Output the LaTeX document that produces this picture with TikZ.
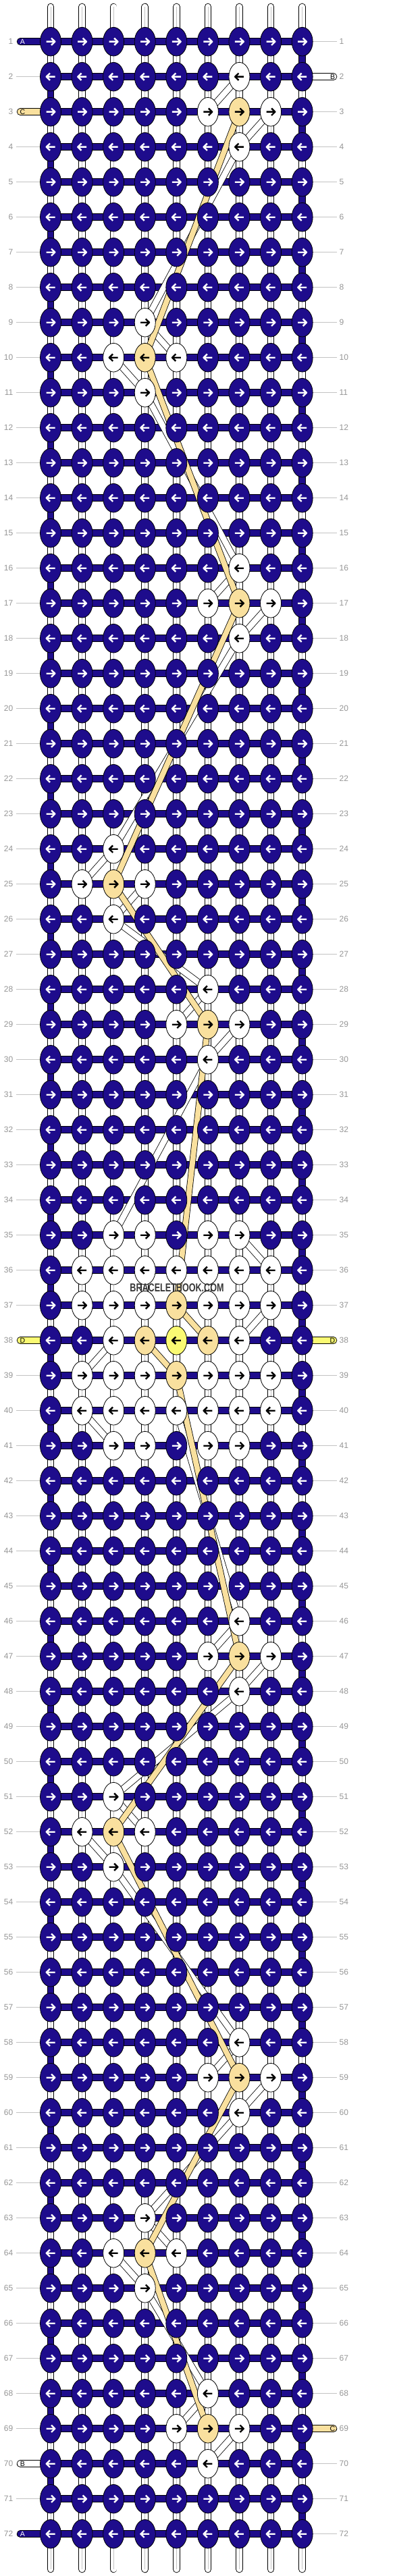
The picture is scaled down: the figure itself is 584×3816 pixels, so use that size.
\documentclass[tikz,border=0pt]{standalone}
\usepackage{fontspec}
\setmainfont{Liberation Sans}
\usetikzlibrary{shapes.geometric}
\definecolor{nv}{RGB}{30,12,140}
\definecolor{tn}{RGB}{249,224,158}
\definecolor{yl}{RGB}{250,250,115}
\definecolor{gline}{RGB}{195,195,195}
\definecolor{gtxt}{RGB}{150,150,150}
\definecolor{wmark}{RGB}{55,55,55}
\pgfdeclarelayer{bars}
\pgfdeclarelayer{bands}
\pgfsetlayers{bars,bands,main}
\tikzset{
  knot/.style={ellipse, draw=black, line width=0.8pt, minimum width=31pt, minimum height=42.6pt, inner sep=0pt},
  knot-n/.style={fill=nv}, knot-w/.style={fill=white}, knot-t/.style={fill=tn}, knot-y/.style={fill=yl},
  arr/.style={line width=2.4pt, line cap=butt, line join=round},
  arr-n/.style={draw=white}, arr-w/.style={draw=black}, arr-t/.style={draw=black}, arr-y/.style={draw=black},
  barout/.style={line width=10.5pt, draw=black},
  barnv/.style={line width=8.7pt, draw=nv},
  barwh/.style={line width=8.7pt, draw=white},
  barmid/.style={line width=0.6pt, draw=gline},
  guide/.style={line width=0.9pt, draw=gline},
  rowlab/.style={text=gtxt, font=\fontsize{12}{12}\selectfont, inner sep=0pt},
  stublab/.style={font=\fontsize{10.5}{10.5}\selectfont, inner sep=0pt},
  wbo/.style={line width=10pt, draw=black},
  wbi/.style={line width=8.4pt, draw=white},
  tbo/.style={line width=9.5pt, draw=black},
  tbi/.style={line width=7.9pt, draw=tn},
}
\begin{document}
\begin{tikzpicture}[x=1pt,y=-1pt]
\useasboundingbox (0,0) rectangle (584,3816);
\begin{pgfonlayer}{bars}\fill[white] (0,0) rectangle (584,3816);\end{pgfonlayer}
% special knot colours
\foreach \r/\c/\t in {2/7/w,3/6/w,3/7/t,3/8/w,4/7/w,
  9/4/w,10/3/w,10/4/t,10/5/w,11/4/w,
  16/7/w,17/6/w,17/7/t,17/8/w,18/7/w,
  24/3/w,25/2/w,25/3/t,25/4/w,26/3/w,
  28/6/w,29/5/w,29/6/t,29/7/w,30/6/w,
  35/3/w,35/4/w,35/6/w,35/7/w,
  36/2/w,36/3/w,36/4/w,36/5/w,36/6/w,36/7/w,36/8/w,
  37/2/w,37/3/w,37/4/w,37/5/t,37/6/w,37/7/w,37/8/w,
  38/3/w,38/4/t,38/5/y,38/6/t,38/7/w,
  39/2/w,39/3/w,39/4/w,39/5/t,39/6/w,39/7/w,39/8/w,
  40/2/w,40/3/w,40/4/w,40/5/w,40/6/w,40/7/w,40/8/w,
  41/3/w,41/4/w,41/6/w,41/7/w,
  46/7/w,47/6/w,47/7/t,47/8/w,48/7/w,
  51/3/w,52/2/w,52/3/t,52/4/w,53/3/w,
  58/7/w,59/6/w,59/7/t,59/8/w,60/7/w,
  63/4/w,64/3/w,64/4/t,64/5/w,65/4/w,
  68/6/w,69/5/w,69/6/t,69/7/w,70/6/w}{\expandafter\xdef\csname kc-\r-\c\endcsname{\t}}
% stubs
\foreach \r/\f/\l/\tc in {1/nv/A/white,3/tn/C/black,38/yl/D/black,70/white/B/black,72/nv/A/white}{\expandafter\xdef\csname sl-\r\endcsname{\f/\l/\tc}}
\foreach \r/\f/\l/\tc in {2/white/B/black,38/yl/D/black,69/tn/C/black}{\expandafter\xdef\csname sr-\r\endcsname{\f/\l/\tc}}
% knots
\foreach \r in {1,...,72}{
  \pgfmathsetmacro\Y{61.7+52*(\r-1)}
  \pgfmathtruncatemacro\odd{mod(\r,2)}
  \foreach \c in {1,...,9}{
    \pgfmathsetmacro\X{75+46.58*(\c-1)}
    \ifcsname kc-\r-\c\endcsname\edef\kt{\csname kc-\r-\c\endcsname}\else\def\kt{n}\fi
    \node[knot, knot-\kt] (k\r-\c) at (\X,\Y) {};
    \ifnum\odd=1
      \draw[arr, arr-\kt] (\X-6.5,\Y) -- (\X+6,\Y) (\X+1,\Y-5.2) -- (\X+6.3,\Y) -- (\X+1,\Y+5.2);
    \else
      \draw[arr, arr-\kt] (\X+6.5,\Y) -- (\X-6,\Y) (\X-1,\Y-5.2) -- (\X-6.3,\Y) -- (\X-1,\Y+5.2);
    \fi
  }
  \node[rowlab, anchor=east] (ll\r) at (19.5,\Y) {\r};
  \node[rowlab, anchor=west] (lr\r) at (502.5,\Y) {\r};
  \coordinate (gl\r) at (23.5,\Y);
  \coordinate (gr\r) at (499,\Y);
  \coordinate (sl\r) at (30,\Y);
  \coordinate (sr\r) at (494,\Y);
}
\begin{pgfonlayer}{bars}
% top and bottom strand ends
\foreach \c in {1,...,9}{
  \pgfmathsetmacro\X{75+46.58*(\c-1)}
  \coordinate (top\c) at (\X,10);
  \coordinate (bot\c) at (\X,3806);
  \draw[barout, line cap=round] (top\c) -- (k1-\c.center);
  \draw[barwh, line cap=round] (top\c) -- (k1-\c.center);
  \draw[barmid] (top\c) -- (k1-\c.center);
  \draw[barout, line cap=round] (bot\c) -- (k72-\c.center);
  \draw[barwh, line cap=round] (bot\c) -- (k72-\c.center);
  \draw[barmid] (bot\c) -- (k72-\c.center);
}
% vertical connectors
\foreach \r in {1,...,71}{
  \pgfmathtruncatemacro\rn{\r+1}
  \pgfmathtruncatemacro\od{mod(\r,2)}
  \foreach \c in {1,...,9}{
    \pgfmathtruncatemacro\isb{or(and(\c==9,\od==1),and(\c==1,\od==0))}
    \draw[barout] (k\r-\c.center) -- (k\rn-\c.center);
    \ifnum\isb=1
      \draw[barnv] (k\r-\c.center) -- (k\rn-\c.center);
    \else
      \draw[barwh] (k\r-\c.center) -- (k\rn-\c.center);
      \draw[barmid] (k\r-\c.center) -- (k\rn-\c.center);
    \fi
  }
}
% horizontal bars, guides, stubs
\foreach \r in {1,...,72}{
  \foreach \c in {1,...,8}{
    \pgfmathtruncatemacro\cn{\c+1}
    \draw[barout] (k\r-\c.center) -- (k\r-\cn.center);
    \draw[barnv] (k\r-\c.center) -- (k\r-\cn.center);
  }
  \ifcsname sl-\r\endcsname
    \edef\sp{\csname sl-\r\endcsname}
    \foreach \f/\l/\tc in \sp {
      \draw[barout, line cap=round] (sl\r) -- (k\r-1.center);
      \draw[line width=8.7pt, draw=\f, line cap=round] (sl\r) -- (k\r-1.center);
      \node[stublab, text=\tc] (sa\r) at ([xshift=3.5pt]sl\r) {\l};
    }
  \else
    \draw[guide] (gl\r) -- (k\r-1.center);
  \fi
  \ifcsname sr-\r\endcsname
    \edef\sp{\csname sr-\r\endcsname}
    \foreach \f/\l/\tc in \sp {
      \draw[barout, line cap=round] (sr\r) -- (k\r-9.center);
      \draw[line width=8.7pt, draw=\f, line cap=round] (sr\r) -- (k\r-9.center);
      \node[stublab, text=\tc] (sb\r) at ([xshift=-1.5pt]sr\r) {\l};
    }
  \else
    \draw[guide] (gr\r) -- (k\r-9.center);
  \fi
}
\end{pgfonlayer}
% diagonal floats
\begin{pgfonlayer}{bands}
\foreach \a/\b in {2-7/3-6,3-8/4-7,4-7/9-4,9-4/10-5,10-3/11-4,11-4/16-7,16-7/17-6,17-8/18-7,
  18-7/24-3,24-3/25-2,25-4/26-3,26-3/28-6,28-6/29-5,29-7/30-6,30-6/35-3,35-7/36-8,37-8/38-7,
  38-3/39-2,40-2/41-3,40-5/46-7,46-7/47-6,47-8/48-7,48-7/51-3,51-3/52-4,52-2/53-3,53-3/58-7,
  58-7/59-6,59-8/60-7,60-7/63-4,63-4/64-5,64-3/65-4,65-4/68-6,68-6/69-5,69-7/70-6}{
  \draw[wbo] (k\a.center) -- (k\b.center);
  \draw[wbi] (k\a.center) -- (k\b.center);
}
\foreach \a/\b in {3-7/10-4,10-4/17-7,17-7/25-3,25-3/29-6,29-6/37-5,37-5/38-6,38-4/39-5,
  39-5/47-7,47-7/52-3,52-3/59-7,59-7/64-4,64-4/69-6}{
  \draw[tbo] (k\a.center) -- (k\b.center);
  \draw[tbi] (k\a.center) -- (k\b.center);
}
\end{pgfonlayer}
\node[font=\bfseries\fontsize{17}{17}\selectfont, text=wmark, xscale=0.74, inner sep=0pt] (wm) at (262,1908) {BRACELETBOOK.COM};
\end{tikzpicture}
\end{document}
